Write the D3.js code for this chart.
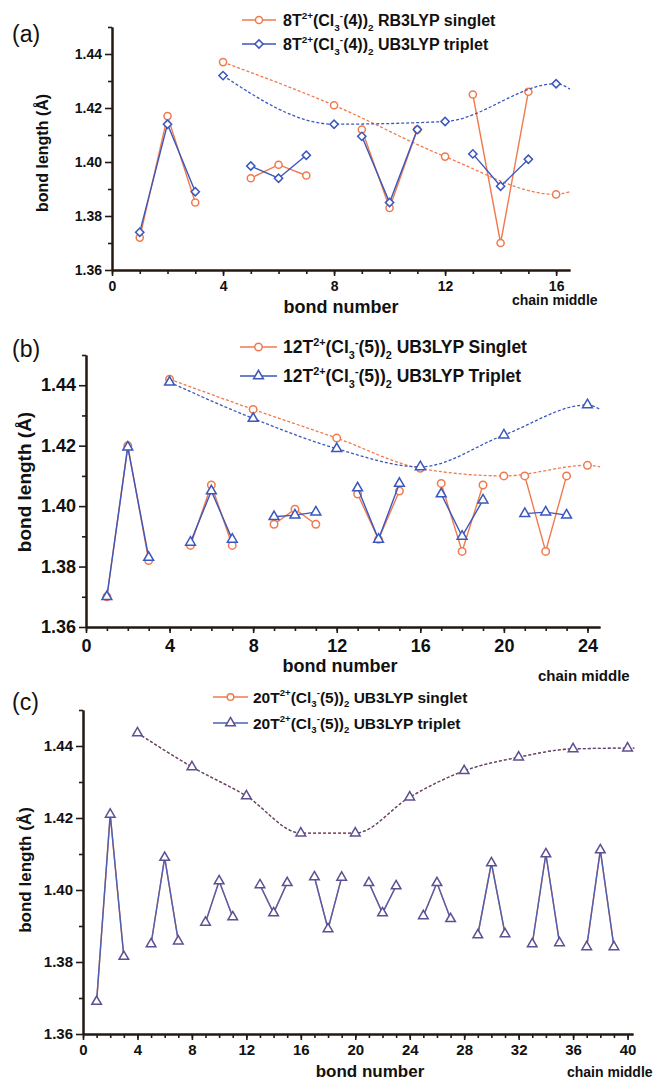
<!DOCTYPE html>
<html>
<head>
<meta charset="utf-8">
<script src="https://cdn.jsdelivr.net/npm/d3@7"></script>
<style>
  body { margin: 0; background: #fff; }
  svg { display: block; font-family: "Liberation Sans", Arial, sans-serif; }
</style>
</head>
<body>
<svg id="fig" width="655" height="1083"></svg>
<script>
// ---- data (bond number -> bond length, Å) ----
// panel (a): 8T2+(Cl3-(4))2, bonds 1..16
const bondsA = d3.range(1, 17);
const singletA = [1.372, 1.417, 1.385, 1.437, 1.394, 1.399, 1.395, 1.421, 1.412, 1.383, 1.412, 1.402, 1.425, 1.370, 1.426, 1.388];
const tripletA = [1.374, 1.414, 1.389, 1.432, 1.3985, 1.394, 1.4025, 1.414, 1.4095, 1.385, 1.412, 1.415, 1.403, 1.391, 1.401, 1.429];
const tailA = { x: 16.5, singlet: 1.389, triplet: 1.427 };

// panel (b): 12T2+(Cl3-(5))2, bonds 1..24
const bondsB = d3.range(1, 25);
const singletB = [1.370, 1.420, 1.382, 1.442, 1.387, 1.407, 1.387, 1.432, 1.394, 1.399, 1.394, 1.4225,
                  1.404, 1.389, 1.405, 1.4125, 1.4075, 1.385, 1.407, 1.410, 1.410, 1.385, 1.410, 1.4135];
const tripletB = [1.370, 1.4195, 1.383, 1.441, 1.388, 1.405, 1.389, 1.429, 1.3965, 1.397, 1.398, 1.419,
                  1.406, 1.389, 1.4075, 1.413, 1.404, 1.390, 1.402, 1.4235, 1.3975, 1.398, 1.397, 1.4335];
const tailB = { x: 24.6, singlet: 1.413, triplet: 1.432 };

// panel (c): 20T2+(Cl3-(5))2, bonds 1..40 (singlet lies on top of triplet)
const bondsC = d3.range(1, 41);
const tripletC = [1.369, 1.421, 1.3815, 1.4436, 1.385, 1.409, 1.3858, 1.4342, 1.391, 1.4025,
                  1.3925, 1.4261, 1.4014, 1.3936, 1.402, 1.4158, 1.4036, 1.3892, 1.4035, 1.4158,
                  1.402, 1.3936, 1.4011, 1.4258, 1.3928, 1.402, 1.392, 1.4331, 1.3875, 1.4075,
                  1.3878, 1.4369, 1.385, 1.410, 1.3853, 1.4392, 1.3842, 1.4111, 1.3842, 1.4394];
const singletC = tripletC;
const tailC = { x: 40.5, singlet: 1.4394, triplet: 1.4394 };

const yTicks = [1.36, 1.38, 1.40, 1.42, 1.44];
const legendA = ['8T', '(4))', 'RB3LYP singlet', 'UB3LYP triplet'];
const legendB = ['12T', '(5))', 'UB3LYP Singlet', 'UB3LYP Triplet'];
const legendC = ['20T', '(5))', 'UB3LYP singlet', 'UB3LYP triplet'];

const ORANGE = '#f07a4e', BLUE = '#3b57bd', AXIS = '#231812';
const svg = d3.select('#fig');

function richText(textSel, parts, fs) {
    let cur = 0;
    parts.forEach(([t, k]) => {
        const target = k === 'sup' ? -0.42 * fs : k === 'sub' ? 0.3 * fs : 0;
        const ts = textSel.append('tspan').text(t).attr('dy', target - cur);
        if (k !== 'n') ts.attr('font-size', fs * 0.62);
        cur = target;
    });
}

function drawPanel(p) {
    const g = svg.append('g');
    const x = d3.scaleLinear().domain([0, p.xMax]).range([p.left, p.right]);
    const y = d3.scaleLinear().domain([1.36, 1.45]).range([p.bottom, p.top]);

    // axes: minor then major
    const xMinor = d3.range(0, Math.floor(p.xMax) + 1);
    const xMajor = xMinor.filter(d => d % 4 === 0);
    g.append('g').attr('transform', `translate(0,${p.bottom})`)
        .call(d3.axisBottom(x).tickValues(xMinor).tickSize(4).tickFormat('').tickSizeOuter(0));
    g.append('g').attr('transform', `translate(0,${p.bottom})`)
        .call(d3.axisBottom(x).tickValues(xMajor).tickSize(6).tickPadding(p.xPad).tickSizeOuter(0).tickFormat(d3.format('d')));
    g.append('g').attr('transform', `translate(${p.left},0)`)
        .call(d3.axisLeft(y).tickValues([1.37, 1.39, 1.41, 1.43, 1.45]).tickSize(4).tickFormat('').tickSizeOuter(0));
    g.append('g').attr('transform', `translate(${p.left},0)`)
        .call(d3.axisLeft(y).tickValues(yTicks).tickSize(7).tickPadding(3).tickSizeOuter(0).tickFormat(d3.format('.2f')));
    g.selectAll('.domain').attr('stroke', AXIS).attr('stroke-width', 2);
    g.selectAll('.tick line').attr('stroke', AXIS).attr('stroke-width', 1.6);
    g.selectAll('.tick text').attr('fill', '#111').attr('font-weight', 'bold')
        .attr('font-family', '"Liberation Sans", Arial, sans-serif').attr('font-size', p.tickFs);

    // series
    const series = [
        { vals: p.singlet, tail: p.tail.singlet, color: ORANGE, dash: ORANGE, sym: d3.symbolCircle, size: p.circSize, markers: p.singletMarkers, mcol: ORANGE },
        { vals: p.triplet, tail: p.tail.triplet, color: p.tripColor, dash: p.tripDash, sym: p.tripSym, size: p.tripSize, markers: true, mcol: p.tripMarker, rot: p.tripRot }
    ];
    const solid = d3.line().x(d => x(d[0])).y(d => y(d[1]));
    const dashed = d3.line().x(d => x(d[0])).y(d => y(d[1])).curve(d3.curveMonotoneX);
    series.forEach(s => {
        const pts = p.bonds.map((b, i) => [b, s.vals[i]]);
        const groups = d3.groups(pts.filter(d => d[0] % 4 !== 0), d => Math.floor(d[0] / 4)).map(d => d[1]);
        groups.forEach(gr => g.append('path').attr('d', solid(gr)).attr('fill', 'none')
            .attr('stroke', s.color).attr('stroke-width', 1.4));
        const centers = pts.filter(d => d[0] % 4 === 0).concat([[p.tail.x, s.tail]]);
        g.append('path').attr('d', dashed(centers)).attr('fill', 'none')
            .attr('stroke', s.dash).attr('stroke-width', 1.3).attr('stroke-dasharray', '3,2');
        if (s.markers) {
            g.selectAll(null).data(pts).join('path')
                .attr('d', d3.symbol().type(s.sym).size(s.size))
                .attr('transform', d => `translate(${x(d[0])},${y(d[1])}) rotate(${s.rot || 0})`)
                .attr('fill', 'white').attr('stroke', s.mcol).attr('stroke-width', 1.5);
        }
    });

    // legend
    const L = p.legend;
    [[ORANGE, d3.symbolCircle, p.circSize, 0, L.names[2]], [p.tripColor, p.tripSym, p.tripSize, p.tripRot || 0, L.names[3]]]
        .forEach(([c, sym, sz, rot, name], i) => {
            const ly = L.y + i * L.dy;
            g.append('line').attr('x1', L.x0).attr('x2', L.x1).attr('y1', ly).attr('y2', ly)
                .attr('stroke', c).attr('stroke-width', 1.4);
            g.append('path').attr('d', d3.symbol().type(sym).size(sz)())
                .attr('transform', `translate(${(L.x0 + L.x1) / 2},${ly}) rotate(${rot})`)
                .attr('fill', 'white').attr('stroke', i === 0 ? ORANGE : p.tripMarker).attr('stroke-width', 1.5);
            const t = g.append('text').attr('x', L.tx).attr('y', ly + L.fs * 0.36)
                .attr('font-size', L.fs).attr('font-weight', 'bold').attr('fill', '#111');
            richText(t, [[L.names[0], 'n'], ['2+', 'sup'], ['(Cl', 'n'], ['3', 'sub'], ['-', 'sup'],
                [L.names[1], 'n'], ['2', 'sub'], [' ' + name, 'n']], L.fs);
        });

    // labels
    g.append('text').attr('x', 12).attr('y', p.tagY).attr('font-size', 23).attr('fill', '#111').text(p.tag);
    g.append('text').attr('transform', `translate(${p.ylabX},${p.ylabY}) rotate(-90)`)
        .attr('text-anchor', 'middle').attr('font-size', p.ylabFs).attr('font-weight', 'bold')
        .attr('fill', '#111').text('bond length (Å)');
    g.append('text').attr('x', p.xlabX).attr('y', p.xlabY).attr('text-anchor', 'middle')
        .attr('font-size', p.xlabFs).attr('font-weight', 'bold').attr('fill', '#111').text('bond number');
    g.append('text').attr('x', p.chainX).attr('y', p.chainY)
        .attr('font-size', p.chainFs).attr('font-weight', 'bold').attr('fill', '#111').text('chain middle');
}

drawPanel({
    bonds: bondsA, singlet: singletA, triplet: tripletA, tail: tailA, xMax: 16.5,
    left: 112, right: 570, top: 27, bottom: 270, xPad: 5, tickFs: 14,
    circSize: 40, tripSym: d3.symbolSquare, tripSize: 34, tripRot: 45, tripColor: BLUE, tripDash: BLUE, tripMarker: BLUE, singletMarkers: true,
    legend: { x0: 242, x1: 276, tx: 283, y: 20, dy: 24, fs: 16, names: legendA },
    tag: '(a)', tagY: 42, ylabX: 48, ylabY: 153, ylabFs: 16,
    xlabX: 341, xlabY: 313, xlabFs: 18, chainX: 512, chainY: 305, chainFs: 14
});
drawPanel({
    bonds: bondsB, singlet: singletB, triplet: tripletB, tail: tailB, xMax: 24.6,
    left: 86, right: 600, top: 355, bottom: 627, xPad: 6, tickFs: 18,
    circSize: 44, tripSym: d3.symbolTriangle, tripSize: 42, tripColor: BLUE, tripDash: BLUE, tripMarker: BLUE, singletMarkers: true,
    legend: { x0: 240, x1: 277, tx: 283, y: 347, dy: 29, fs: 17.5, names: legendB },
    tag: '(b)', tagY: 357, ylabX: 31, ylabY: 482, ylabFs: 19,
    xlabX: 340, xlabY: 672, xlabFs: 18, chainX: 538, chainY: 681, chainFs: 15
});
drawPanel({
    bonds: bondsC, singlet: singletC, triplet: tripletC, tail: tailC, xMax: 40.4,
    left: 83, right: 633, top: 710, bottom: 1034, xPad: 4, tickFs: 15,
    circSize: 34, tripSym: d3.symbolTriangle, tripSize: 40, tripColor: '#4a60b4', tripDash: '#54497f', tripMarker: '#5d4f93', singletMarkers: false,
    legend: { x0: 213, x1: 248, tx: 253, y: 697, dy: 26, fs: 15.5, names: legendC },
    tag: '(c)', tagY: 710, ylabX: 31, ylabY: 870, ylabFs: 17,
    xlabX: 370, xlabY: 1077, xlabFs: 17, chainX: 567, chainY: 1077, chainFs: 14
});
</script>
</body>
</html>
